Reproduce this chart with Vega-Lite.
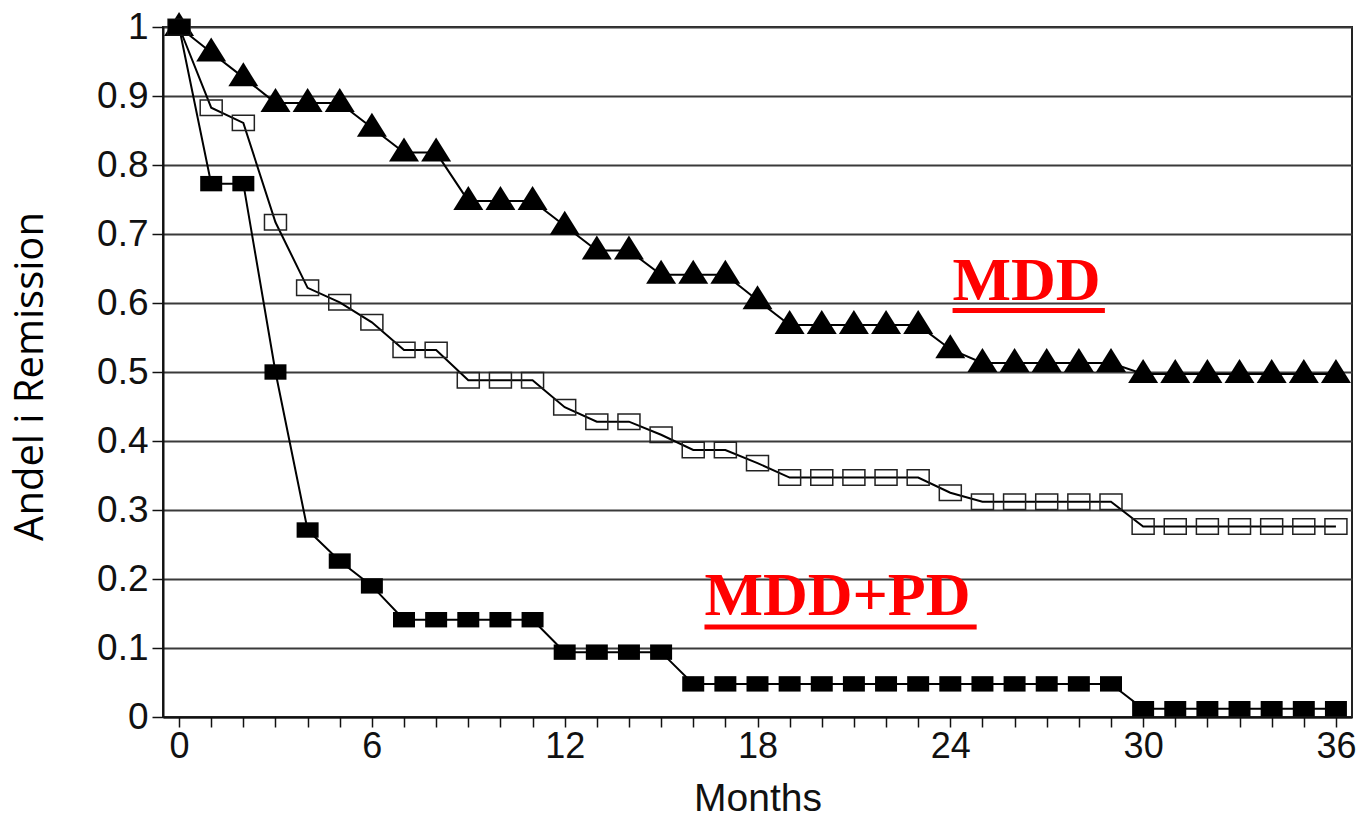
{
  "$schema": "https://vega.github.io/schema/vega-lite/v6.json",
  "autosize": {"type": "none"},
  "width": 1189,
  "height": 690,
  "padding": {"left": 163, "top": 27, "right": 8, "bottom": 101},
  "background": "white",
  "config": {"view": {"stroke": "#222", "strokeWidth": 2}},
  "datasets": {
    "km": [
      {"series": "MDD", "month": 0, "value": 1},
      {"series": "MDD", "month": 1, "value": 0.963},
      {"series": "MDD", "month": 2, "value": 0.927},
      {"series": "MDD", "month": 3, "value": 0.89},
      {"series": "MDD", "month": 4, "value": 0.89},
      {"series": "MDD", "month": 5, "value": 0.89},
      {"series": "MDD", "month": 6, "value": 0.854},
      {"series": "MDD", "month": 7, "value": 0.818},
      {"series": "MDD", "month": 8, "value": 0.818},
      {"series": "MDD", "month": 9, "value": 0.748},
      {"series": "MDD", "month": 10, "value": 0.748},
      {"series": "MDD", "month": 11, "value": 0.748},
      {"series": "MDD", "month": 12, "value": 0.712},
      {"series": "MDD", "month": 13, "value": 0.676},
      {"series": "MDD", "month": 14, "value": 0.676},
      {"series": "MDD", "month": 15, "value": 0.641},
      {"series": "MDD", "month": 16, "value": 0.641},
      {"series": "MDD", "month": 17, "value": 0.641},
      {"series": "MDD", "month": 18, "value": 0.604},
      {"series": "MDD", "month": 19, "value": 0.568},
      {"series": "MDD", "month": 20, "value": 0.568},
      {"series": "MDD", "month": 21, "value": 0.568},
      {"series": "MDD", "month": 22, "value": 0.568},
      {"series": "MDD", "month": 23, "value": 0.568},
      {"series": "MDD", "month": 24, "value": 0.533},
      {"series": "MDD", "month": 25, "value": 0.513},
      {"series": "MDD", "month": 26, "value": 0.513},
      {"series": "MDD", "month": 27, "value": 0.513},
      {"series": "MDD", "month": 28, "value": 0.513},
      {"series": "MDD", "month": 29, "value": 0.513},
      {"series": "MDD", "month": 30, "value": 0.497},
      {"series": "MDD", "month": 31, "value": 0.497},
      {"series": "MDD", "month": 32, "value": 0.497},
      {"series": "MDD", "month": 33, "value": 0.497},
      {"series": "MDD", "month": 34, "value": 0.497},
      {"series": "MDD", "month": 35, "value": 0.497},
      {"series": "MDD", "month": 36, "value": 0.497},
      {"series": "Open", "month": 0, "value": 1},
      {"series": "Open", "month": 1, "value": 0.883},
      {"series": "Open", "month": 2, "value": 0.861},
      {"series": "Open", "month": 3, "value": 0.717},
      {"series": "Open", "month": 4, "value": 0.622},
      {"series": "Open", "month": 5, "value": 0.601},
      {"series": "Open", "month": 6, "value": 0.572},
      {"series": "Open", "month": 7, "value": 0.532},
      {"series": "Open", "month": 8, "value": 0.532},
      {"series": "Open", "month": 9, "value": 0.488},
      {"series": "Open", "month": 10, "value": 0.488},
      {"series": "Open", "month": 11, "value": 0.488},
      {"series": "Open", "month": 12, "value": 0.449},
      {"series": "Open", "month": 13, "value": 0.428},
      {"series": "Open", "month": 14, "value": 0.428},
      {"series": "Open", "month": 15, "value": 0.409},
      {"series": "Open", "month": 16, "value": 0.387},
      {"series": "Open", "month": 17, "value": 0.387},
      {"series": "Open", "month": 18, "value": 0.368},
      {"series": "Open", "month": 19, "value": 0.347},
      {"series": "Open", "month": 20, "value": 0.347},
      {"series": "Open", "month": 21, "value": 0.347},
      {"series": "Open", "month": 22, "value": 0.347},
      {"series": "Open", "month": 23, "value": 0.347},
      {"series": "Open", "month": 24, "value": 0.325},
      {"series": "Open", "month": 25, "value": 0.312},
      {"series": "Open", "month": 26, "value": 0.312},
      {"series": "Open", "month": 27, "value": 0.312},
      {"series": "Open", "month": 28, "value": 0.312},
      {"series": "Open", "month": 29, "value": 0.312},
      {"series": "Open", "month": 30, "value": 0.276},
      {"series": "Open", "month": 31, "value": 0.276},
      {"series": "Open", "month": 32, "value": 0.276},
      {"series": "Open", "month": 33, "value": 0.276},
      {"series": "Open", "month": 34, "value": 0.276},
      {"series": "Open", "month": 35, "value": 0.276},
      {"series": "Open", "month": 36, "value": 0.276},
      {"series": "MDD+PD", "month": 0, "value": 1},
      {"series": "MDD+PD", "month": 1, "value": 0.773},
      {"series": "MDD+PD", "month": 2, "value": 0.773},
      {"series": "MDD+PD", "month": 3, "value": 0.5},
      {"series": "MDD+PD", "month": 4, "value": 0.271},
      {"series": "MDD+PD", "month": 5, "value": 0.226},
      {"series": "MDD+PD", "month": 6, "value": 0.19},
      {"series": "MDD+PD", "month": 7, "value": 0.141},
      {"series": "MDD+PD", "month": 8, "value": 0.141},
      {"series": "MDD+PD", "month": 9, "value": 0.141},
      {"series": "MDD+PD", "month": 10, "value": 0.141},
      {"series": "MDD+PD", "month": 11, "value": 0.141},
      {"series": "MDD+PD", "month": 12, "value": 0.094},
      {"series": "MDD+PD", "month": 13, "value": 0.094},
      {"series": "MDD+PD", "month": 14, "value": 0.094},
      {"series": "MDD+PD", "month": 15, "value": 0.094},
      {"series": "MDD+PD", "month": 16, "value": 0.048},
      {"series": "MDD+PD", "month": 17, "value": 0.048},
      {"series": "MDD+PD", "month": 18, "value": 0.048},
      {"series": "MDD+PD", "month": 19, "value": 0.048},
      {"series": "MDD+PD", "month": 20, "value": 0.048},
      {"series": "MDD+PD", "month": 21, "value": 0.048},
      {"series": "MDD+PD", "month": 22, "value": 0.048},
      {"series": "MDD+PD", "month": 23, "value": 0.048},
      {"series": "MDD+PD", "month": 24, "value": 0.048},
      {"series": "MDD+PD", "month": 25, "value": 0.048},
      {"series": "MDD+PD", "month": 26, "value": 0.048},
      {"series": "MDD+PD", "month": 27, "value": 0.048},
      {"series": "MDD+PD", "month": 28, "value": 0.048},
      {"series": "MDD+PD", "month": 29, "value": 0.048},
      {"series": "MDD+PD", "month": 30, "value": 0.012},
      {"series": "MDD+PD", "month": 31, "value": 0.012},
      {"series": "MDD+PD", "month": 32, "value": 0.012},
      {"series": "MDD+PD", "month": 33, "value": 0.012},
      {"series": "MDD+PD", "month": 34, "value": 0.012},
      {"series": "MDD+PD", "month": 35, "value": 0.012},
      {"series": "MDD+PD", "month": 36, "value": 0.012}
    ],
    "labels": [
      {"label": "MDD", "month": 24.07, "value": 0.604},
      {"label": "MDD+PD", "month": 16.35, "value": 0.148}
    ],
    "underlines": [
      {"month": 24.07, "month_end": 28.81, "value": 0.589},
      {"month": 16.35, "month_end": 24.82, "value": 0.1304}
    ]
  },
  "encoding": {
    "x": {
      "field": "month", "type": "quantitative",
      "scale": {"domain": [-0.5, 36.5], "nice": false, "zero": false},
      "axis": {
        "values": [0,1,2,3,4,5,6,7,8,9,10,11,12,13,14,15,16,17,18,19,20,21,22,23,24,25,26,27,28,29,30,31,32,33,34,35,36],
        "labelExpr": "datum.value % 6 === 0 ? datum.label : ''",
        "grid": false,
        "domainColor": "#111", "domainWidth": 2,
        "tickColor": "#111", "tickWidth": 1.5, "tickSize": 10,
        "labelFont": "Liberation Sans", "labelFontSize": 36, "labelColor": "#111",
        "labelPadding": 2, "labelOverlap": false, "labelFlush": false,
        "title": "Months", "titleFont": "Liberation Sans", "titleFontSize": 39,
        "titleFontWeight": "normal", "titleColor": "#111",
        "titleY": 93, "titleBaseline": "alphabetic"
      }
    },
    "y": {
      "field": "value", "type": "quantitative",
      "scale": {"domain": [0, 1], "nice": false, "zero": false},
      "axis": {
        "values": [0, 0.1, 0.2, 0.3, 0.4, 0.5, 0.6, 0.7, 0.8, 0.9, 1],
        "format": ".1~f",
        "grid": true, "gridColor": "#3a3a3a", "gridWidth": 2,
        "domainColor": "#111", "domainWidth": 2,
        "tickColor": "#111", "tickWidth": 1.5, "tickSize": 11,
        "labelFont": "Liberation Sans", "labelFontSize": 37, "labelColor": "#111",
        "labelPadding": 4,
        "title": "Andel i Remission", "titleFont": "Open Sans", "titleFontSize": 40,
        "titleFontWeight": "normal", "titleColor": "#000",
        "titleAngle": -90, "titleX": -133, "titleY": 349,
        "titleAlign": "center", "titleBaseline": "middle"
      }
    }
  },
  "layer": [
    {
      "data": {"name": "km"},
      "mark": {"type": "line", "color": "#000000", "strokeWidth": 2},
      "encoding": {
        "detail": {"field": "series"}
      }
    },
    {
      "data": {"name": "km"},
      "transform": [{"filter": "datum.series === 'MDD'"}],
      "mark": {"type": "point", "shape": "M0,-1L-1,0.6L1,0.6Z", "filled": true, "color": "#000000", "opacity": 1, "size": 900}
    },
    {
      "data": {"name": "km"},
      "transform": [{"filter": "datum.series === 'Open'"}],
      "mark": {"type": "point", "shape": "M-1,-0.7L1,-0.7L1,0.7L-1,0.7Z", "filled": false, "color": "#222", "strokeWidth": 1.5, "opacity": 1, "size": 484}
    },
    {
      "data": {"name": "km"},
      "transform": [{"filter": "datum.series === 'MDD+PD'"}],
      "mark": {"type": "point", "shape": "M-1,-0.7L1,-0.7L1,0.7L-1,0.7Z", "filled": true, "color": "#000000", "opacity": 1, "size": 484}
    },
    {
      "data": {"name": "labels"},
      "mark": {"type": "text", "font": "Liberation Serif", "fontWeight": "bold", "fontSize": 62, "color": "#ff0000", "align": "left", "baseline": "alphabetic"},
      "encoding": {
        "text": {"field": "label"}
      }
    },
    {
      "data": {"name": "underlines"},
      "mark": {"type": "rule", "color": "#ff0000", "strokeWidth": 5},
      "encoding": {
        "x2": {"field": "month_end"}
      }
    }
  ]
}
